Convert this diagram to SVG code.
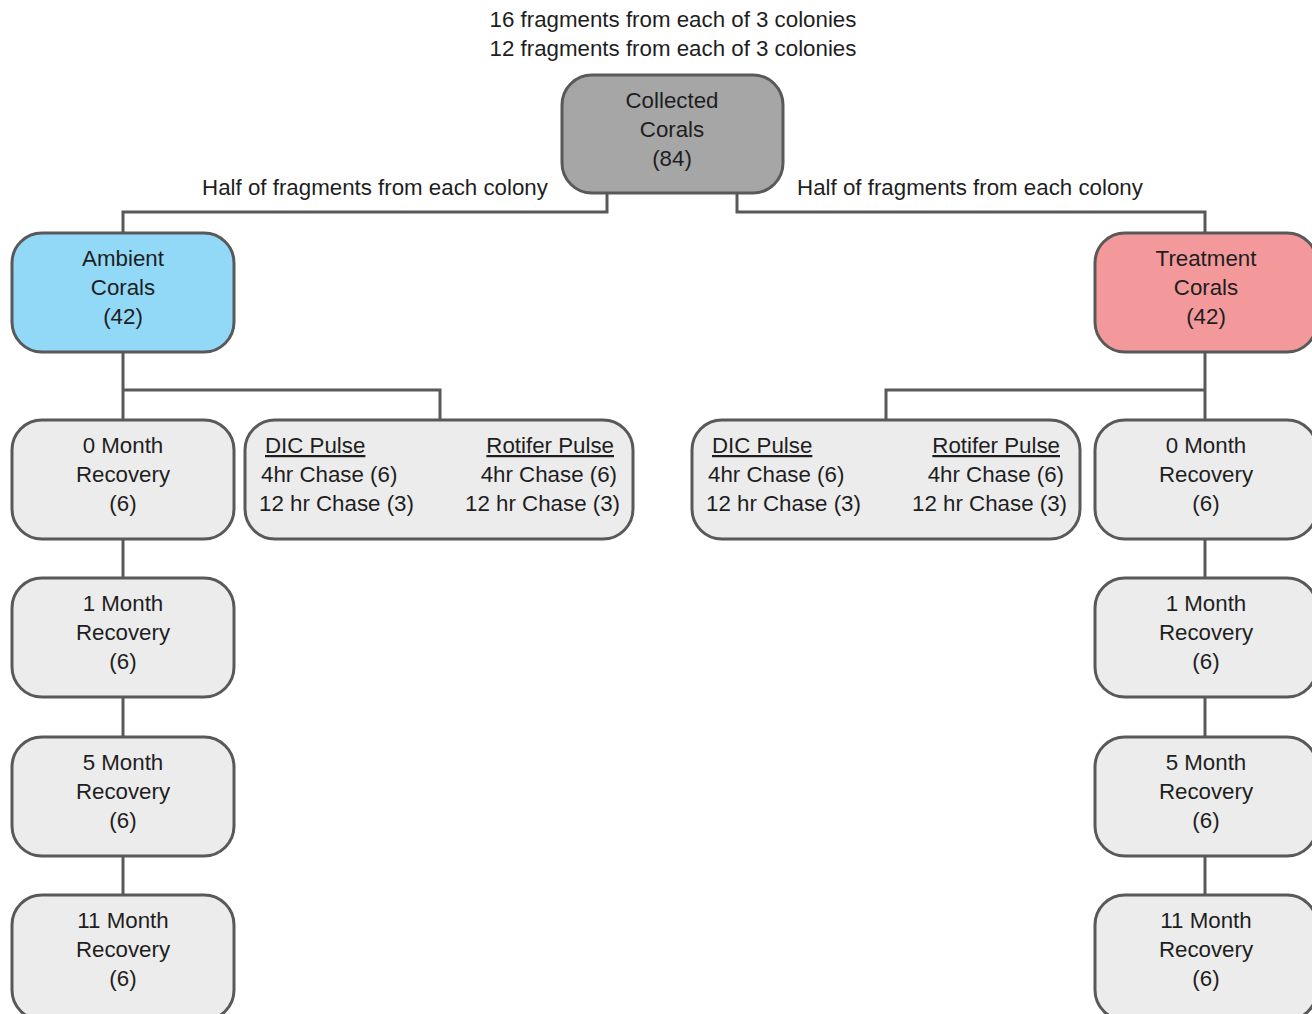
<svg xmlns="http://www.w3.org/2000/svg" width="1312" height="1014" viewBox="0 0 1312 1014">
<style>
text{font-family:"Liberation Sans",Arial,sans-serif;font-size:22.3px;fill:#1e1e1e;}
.c{text-anchor:middle;}
.e{text-anchor:end;}
.u{text-decoration:underline;}
.box{stroke:#595959;stroke-width:3;}
.g{fill:#ececec;}
.con{fill:none;stroke:#595959;stroke-width:3;}
</style>
<rect width="1312" height="1014" fill="#fff"/>
<text class="c" x="673" y="27">16 fragments from each of 3 colonies</text>
<text class="c" x="673" y="56">12 fragments from each of 3 colonies</text>
<text class="c" x="375" y="195">Half of fragments from each colony</text>
<text class="c" x="970" y="195">Half of fragments from each colony</text>
<g id="connectors">
<polyline class="con" points="607,193 607,212 123,212 123,233"/>
<polyline class="con" points="737,193 737,212 1205,212 1205,233"/>
<line class="con" x1="123" y1="352" x2="123" y2="420"/>
<polyline class="con" points="123,390 440,390 440,420"/>
<line class="con" x1="1205" y1="352" x2="1205" y2="420"/>
<polyline class="con" points="1205,390 886,390 886,420"/>
<line class="con" x1="123" y1="539" x2="123" y2="578"/>
<line class="con" x1="123" y1="697" x2="123" y2="737"/>
<line class="con" x1="123" y1="856" x2="123" y2="895"/>
<line class="con" x1="1205" y1="539" x2="1205" y2="578"/>
<line class="con" x1="1205" y1="697" x2="1205" y2="737"/>
<line class="con" x1="1205" y1="856" x2="1205" y2="895"/>
</g>
<g id="collected">
<rect class="box" x="562" y="75" width="221" height="118" rx="30" fill="#a6a6a6"/>
<text class="c" x="672" y="108">Collected</text>
<text class="c" x="672" y="137">Corals</text>
<text class="c" x="672" y="166">(84)</text>
</g>
<g id="ambient">
<rect class="box" x="12" y="233" width="222" height="119" rx="30" fill="#92d9f8"/>
<text class="c" x="123" y="266">Ambient</text>
<text class="c" x="123" y="295">Corals</text>
<text class="c" x="123" y="324">(42)</text>
</g>
<g id="treatment">
<rect class="box" x="1095" y="233" width="222" height="119" rx="30" fill="#f4999b"/>
<text class="c" x="1206" y="266">Treatment</text>
<text class="c" x="1206" y="295">Corals</text>
<text class="c" x="1206" y="324">(42)</text>
</g>
<g id="amb0">
<rect class="box g" x="12" y="420" width="222" height="119" rx="30"/>
<text class="c" x="123" y="453">0 Month</text>
<text class="c" x="123" y="482">Recovery</text>
<text class="c" x="123" y="511">(6)</text>
</g>
<g id="amb1">
<rect class="box g" x="12" y="578" width="222" height="119" rx="30"/>
<text class="c" x="123" y="611">1 Month</text>
<text class="c" x="123" y="640">Recovery</text>
<text class="c" x="123" y="669">(6)</text>
</g>
<g id="amb5">
<rect class="box g" x="12" y="737" width="222" height="119" rx="30"/>
<text class="c" x="123" y="770">5 Month</text>
<text class="c" x="123" y="799">Recovery</text>
<text class="c" x="123" y="828">(6)</text>
</g>
<g id="amb11">
<rect class="box g" x="12" y="895" width="222" height="125" rx="30"/>
<text class="c" x="123" y="928">11 Month</text>
<text class="c" x="123" y="957">Recovery</text>
<text class="c" x="123" y="986">(6)</text>
</g>
<g id="ambPulse">
<rect class="box g" x="245" y="420" width="388" height="119" rx="30"/>
<text class="u" x="265" y="453">DIC Pulse</text>
<text x="261" y="482">4hr Chase (6)</text>
<text x="259" y="511">12 hr Chase (3)</text>
<text class="e u" x="614" y="453">Rotifer Pulse</text>
<text class="e" x="617" y="482">4hr Chase (6)</text>
<text class="e" x="620" y="511">12 hr Chase (3)</text>
</g>
<g id="trtPulse">
<rect class="box g" x="692" y="420" width="388" height="119" rx="30"/>
<text class="u" x="712" y="453">DIC Pulse</text>
<text x="708" y="482">4hr Chase (6)</text>
<text x="706" y="511">12 hr Chase (3)</text>
<text class="e u" x="1060" y="453">Rotifer Pulse</text>
<text class="e" x="1064" y="482">4hr Chase (6)</text>
<text class="e" x="1067" y="511">12 hr Chase (3)</text>
</g>
<g id="trt0">
<rect class="box g" x="1095" y="420" width="222" height="119" rx="30"/>
<text class="c" x="1206" y="453">0 Month</text>
<text class="c" x="1206" y="482">Recovery</text>
<text class="c" x="1206" y="511">(6)</text>
</g>
<g id="trt1">
<rect class="box g" x="1095" y="578" width="222" height="119" rx="30"/>
<text class="c" x="1206" y="611">1 Month</text>
<text class="c" x="1206" y="640">Recovery</text>
<text class="c" x="1206" y="669">(6)</text>
</g>
<g id="trt5">
<rect class="box g" x="1095" y="737" width="222" height="119" rx="30"/>
<text class="c" x="1206" y="770">5 Month</text>
<text class="c" x="1206" y="799">Recovery</text>
<text class="c" x="1206" y="828">(6)</text>
</g>
<g id="trt11">
<rect class="box g" x="1095" y="895" width="222" height="125" rx="30"/>
<text class="c" x="1206" y="928">11 Month</text>
<text class="c" x="1206" y="957">Recovery</text>
<text class="c" x="1206" y="986">(6)</text>
</g>
</svg>
